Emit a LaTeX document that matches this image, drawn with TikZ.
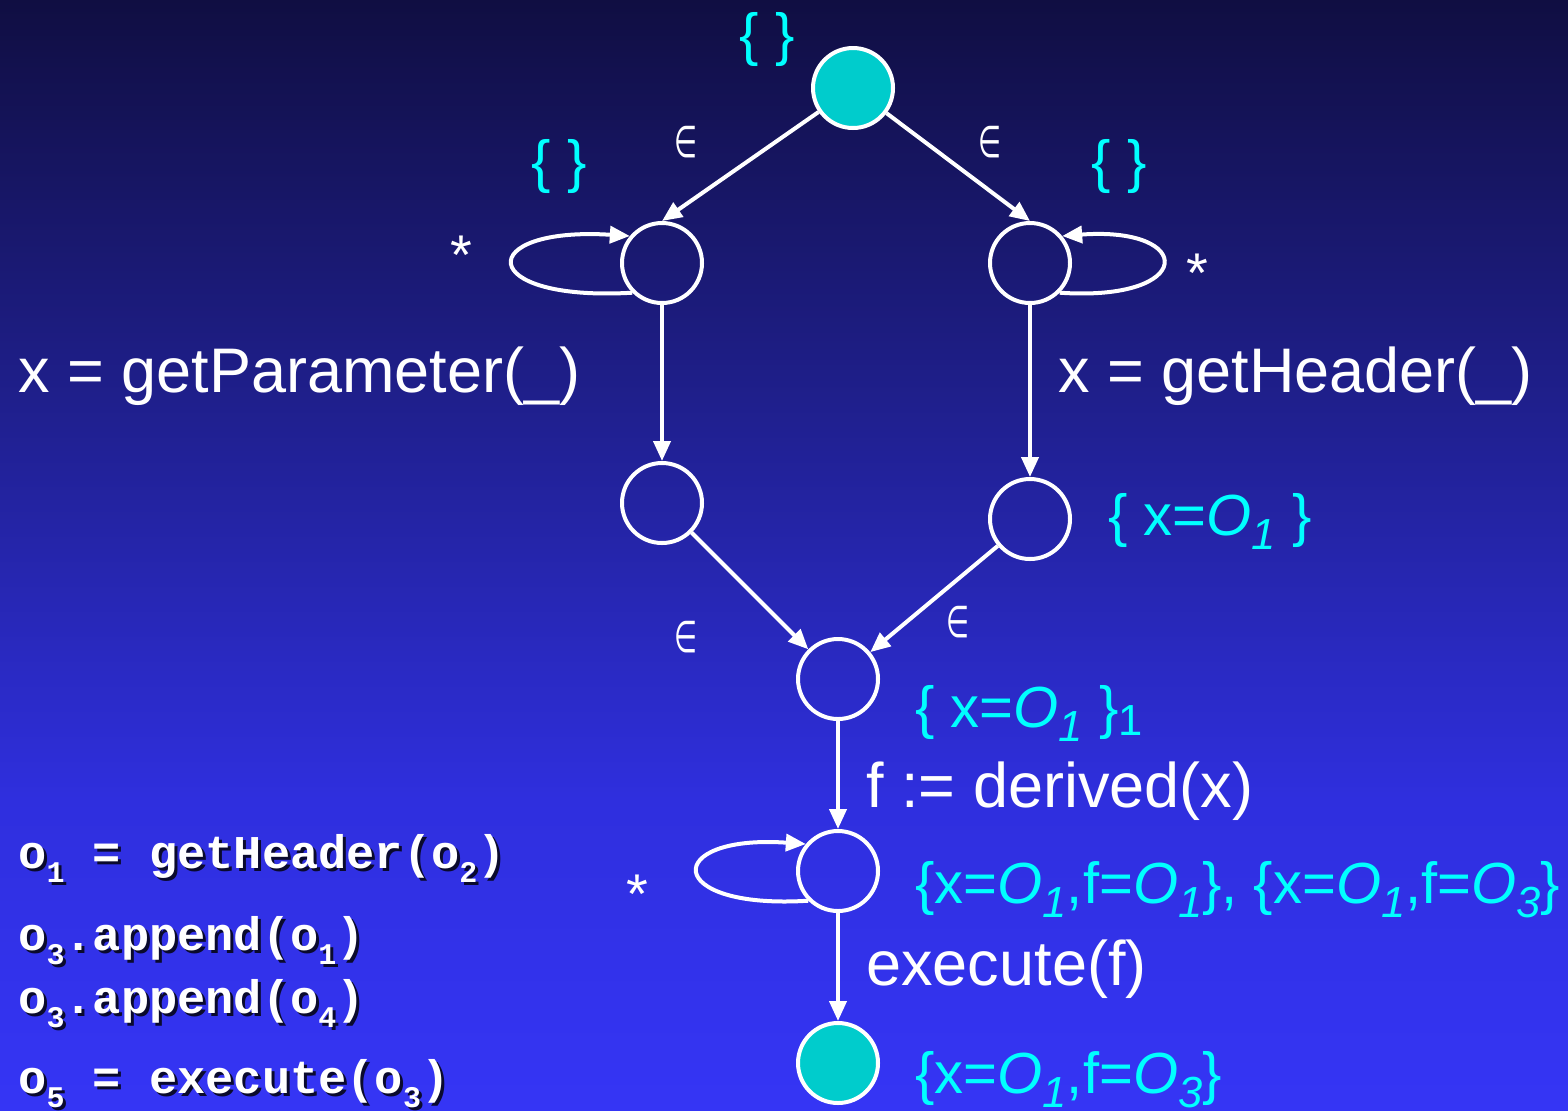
\documentclass[tikz,border=0pt]{standalone}
\usepackage{fontspec}
\usepackage{graphicx}
\setmainfont{Liberation Sans}
\newfontfamily\codefont{Liberation Mono}
\newfontfamily\symfont{DejaVu Sans}
\usetikzlibrary{arrows.meta}

\definecolor{bgT}{RGB}{16,14,66}
\definecolor{bgF}{RGB}{31,31,140}
\definecolor{bgE}{RGB}{47,47,222}
\definecolor{bgB}{RGB}{53,53,245}
\definecolor{cyantext}{RGB}{0,255,255}
\definecolor{tealfill}{RGB}{0,204,204}
\definecolor{shadowc}{RGB}{10,10,45}
\pgfdeclareverticalshading{bgshade}{100bp}{color(0bp)=(bgB); color(25bp)=(bgB); color(39bp)=(bgE); color(57bp)=(bgF); color(75bp)=(bgT); color(100bp)=(bgT)}

\newcommand\ob[1]{\textit{O}\raisebox{-0.25em}{\scalebox{0.75}{\textit{#1}}}}
\newcommand\csub[1]{\raisebox{-0.3em}{\fontsize{15}{15}\selectfont #1}}
\newcommand\elem{{\symfont\scalebox{0.6}[1]{∈}}}

\begin{document}
\begin{tikzpicture}[x=0.5pt,y=-0.5pt,
  state/.style={circle,draw=white,line width=2pt,minimum size=40pt,inner sep=0pt},
  final/.style={state,fill=tealfill},
  edge/.style={draw=white,line width=2pt,-{Triangle[length=10pt,width=8.5pt]}},
  lbl/.style={text=white,font=\fontsize{31.5}{36}\selectfont,anchor=base west,inner sep=0pt},
  setlbl/.style={text=cyantext,font=\fontsize{29}{34}\selectfont,anchor=base west,inner sep=0pt},
  bracelbl/.style={text=cyantext,font=\fontsize{29}{34}\selectfont,inner sep=0pt},
  epslbl/.style={text=white,font=\fontsize{22}{24}\selectfont,inner sep=0pt},
  starlbl/.style={text=white,font=\fontsize{28}{30}\selectfont,inner sep=0pt,anchor=base},
  code/.style={text=white,font=\codefont\bfseries\fontsize{23.5}{26}\selectfont,anchor=base west,inner sep=0pt},
  codeshadow/.style={code,text=shadowc}]

\useasboundingbox (0,0) rectangle (1568,1110);
\shade[shading=bgshade] (0,0) rectangle (1568,1110);

% states
\node[final] (top) at (853,88) {};
\node[state] (L1) at (662,263) {};
\node[state] (R1) at (1030,263) {};
\node[state] (L2) at (662,503) {};
\node[state] (R2) at (1030,519) {};
\node[state] (M) at (838,679) {};
\node[state] (N) at (838,871) {};
\node[final] (bot) at (838,1063) {};

% edges
\draw[edge] (top) -- (L1.north);
\draw[edge] (top) -- (R1.north);
\draw[edge] (L1) -- (L2);
\draw[edge] (R1) -- (R2);
\draw[edge] (L2) -- (M);
\draw[edge] (R2) -- (M);
\draw[edge] (M) -- (N);
\draw[edge] (N) -- (bot);

% self loops
\draw[edge] (L1.225) .. controls (474,302) and (474,226) .. (L1.140);
\draw[edge] (R1.-45) .. controls (1196,302) and (1196,226) .. (R1.40);
\draw[edge] (N.225) .. controls (662,910) and (662,834) .. (N.140);

% epsilon labels
\node[epslbl] (e1) at (686,142) {\elem};
\node[epslbl] (e2) at (990,142) {\elem};
\node[epslbl] (e3) at (686,637) {\elem};
\node[epslbl] (e4) at (958,622) {\elem};

% stars
\node[starlbl] (st1) at (461,274) {*};
\node[starlbl] (st2) at (1197,292) {*};
\node[starlbl] (st3) at (637,913) {*};

% empty sets
\node[bracelbl] (b0) at (767,39) {\{ \}};
\node[bracelbl] (b1) at (559,166) {\{ \}};
\node[bracelbl] (b2) at (1119,166) {\{ \}};

% transition labels
\node[lbl] (gp) at (18,392) {x = getParameter(\_)};
\node[lbl] (gh) at (1058,392) {x = getHeader(\_)};
\node[lbl] (der) at (866,807) {f := derived(x)};
\node[lbl] (exe) at (866,985) {execute(f)};

% sets
\node[setlbl] (s1) at (1108,535) {\{ x=\ob1 \}};
\node[setlbl] (s2) at (915,727) {\{ x=\ob1 \}\raisebox{-0.15em}{\scalebox{0.75}{1}}};
\node[setlbl] (s3) at (915,903) {\{x=\ob1,f=\ob1\}, \{x=\ob1,f=\ob3\}};
\node[setlbl] (s4) at (915,1093) {\{x=\ob1,f=\ob3\}};

% code
\node[codeshadow] (c1s) at (21,871) {o\csub{1} = getHeader(o\csub{2})};
\node[code] (c1) at (18,868) {o\csub{1} = getHeader(o\csub{2})};
\node[codeshadow] (c2s) at (21,953) {o\csub{3}.append(o\csub{1})};
\node[code] (c2) at (18,950) {o\csub{3}.append(o\csub{1})};
\node[codeshadow] (c3s) at (21,1016) {o\csub{3}.append(o\csub{4})};
\node[code] (c3) at (18,1013) {o\csub{3}.append(o\csub{4})};
\node[codeshadow] (c4s) at (21,1096) {o\csub{5} = execute(o\csub{3})};
\node[code] (c4) at (18,1093) {o\csub{5} = execute(o\csub{3})};
\end{tikzpicture}
\end{document}
